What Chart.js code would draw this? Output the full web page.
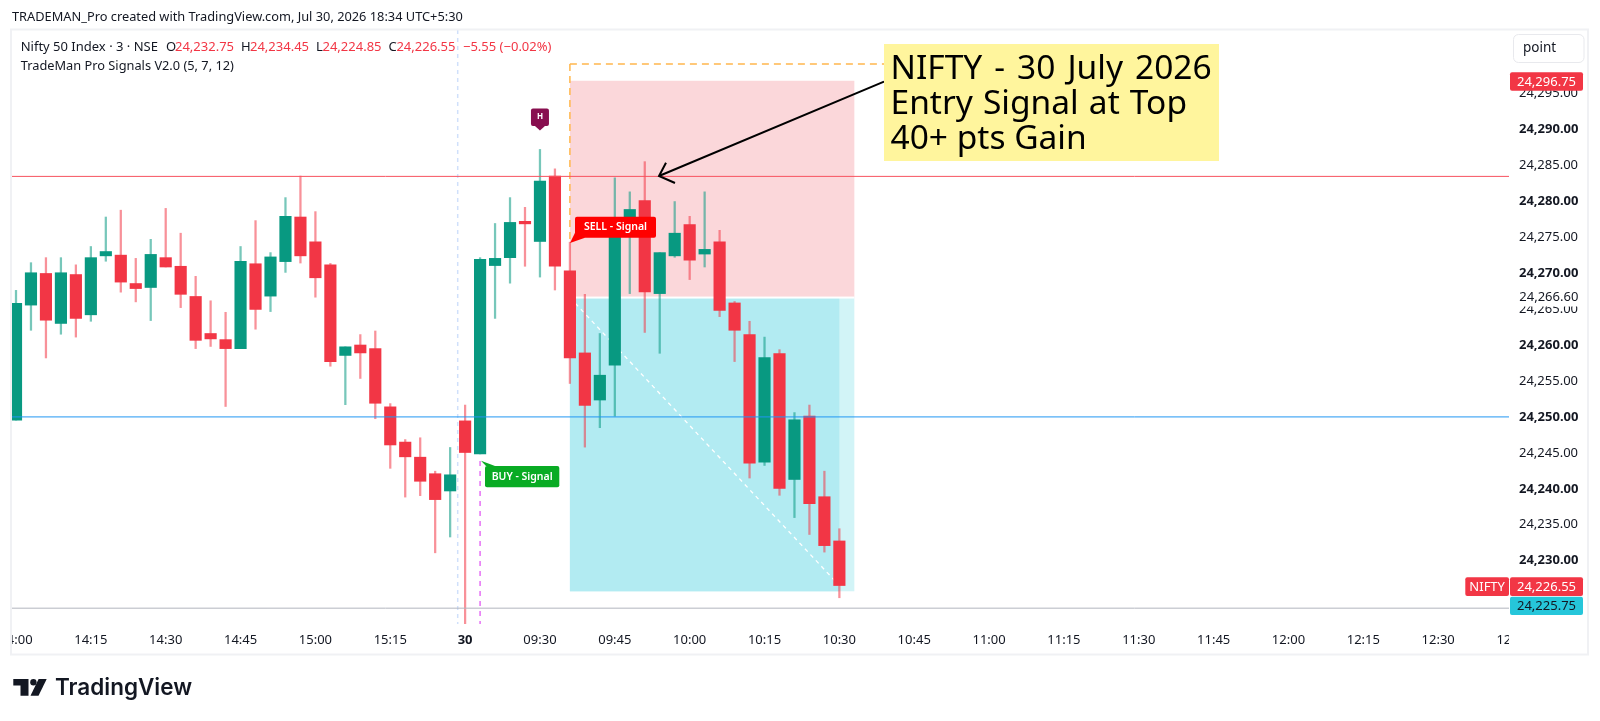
<!DOCTYPE html>
<html>
<head>
<meta charset="utf-8">
<title>NIFTY 30 July 2026</title>
<script src="https://cdn.jsdelivr.net/npm/chart.js@4/dist/chart.umd.min.js"></script>
<style>
  html, body { margin: 0; padding: 0; background: #fff; }
  canvas { display: block; }
</style>
</head>
<body>
<canvas id="chart" width="1600" height="721" style="width:1600px;height:721px"></canvas>
<script>
// candles
const opens = [24249.55,24265.55,24269.95,24263.00,24269.80,24264.20,24272.40,24272.50,24268.55,24268.00,
  24272.15,24270.95,24266.75,24261.60,24260.75,24259.50,24271.30,24266.80,24271.60,24277.80,
  24274.35,24271.15,24258.55,24260.00,24259.50,24251.40,24246.50,24244.40,24242.10,24239.70,
  24249.45,24244.85,24271.05,24272.15,24277.20,24274.40,24283.50,24270.30,24258.90,24252.35,
  24257.20,24277.70,24280.10,24267.15,24272.40,24276.75,24272.65,24274.35,24265.85,24261.45,
  24243.70,24258.80,24241.30,24250.10,24238.90,24232.75];
const highs = [24267.60,24271.45,24272.15,24272.15,24271.15,24273.70,24277.80,24278.75,24272.05,24274.70,
  24279.00,24275.55,24269.55,24266.15,24264.55,24273.70,24277.30,24272.85,24280.50,24283.50,
  24278.55,24271.35,24259.75,24261.45,24261.95,24251.85,24246.85,24247.10,24242.45,24245.75,
  24251.65,24272.15,24276.90,24280.50,24279.15,24287.20,24284.50,24274.30,24267.05,24261.60,
  24283.25,24281.30,24285.50,24272.85,24279.95,24277.90,24281.30,24275.95,24266.05,24263.30,
  24261.10,24259.35,24250.60,24251.65,24242.45,24234.45];
const lows = [24249.55,24262.05,24258.20,24261.50,24261.10,24263.30,24271.65,24267.35,24266.00,24263.40,
  24270.85,24265.20,24259.50,24259.80,24251.45,24259.50,24262.20,24264.65,24270.10,24271.40,
  24266.65,24257.05,24251.70,24255.35,24249.75,24242.85,24238.85,24239.05,24231.10,24233.30,
  24221.15,24244.85,24263.70,24268.60,24270.95,24269.45,24267.65,24254.65,24245.80,24248.50,
  24250.10,24267.15,24261.75,24258.85,24272.20,24269.10,24270.85,24263.95,24257.70,24241.50,
  24243.25,24239.10,24236.00,24233.65,24231.20,24224.85];
const closes = [24265.80,24270.05,24263.45,24270.05,24263.70,24272.15,24273.00,24268.75,24267.85,24272.60,
  24270.85,24267.05,24260.65,24260.85,24259.50,24271.65,24264.95,24272.25,24277.90,24272.40,
  24269.35,24257.70,24259.75,24258.90,24251.90,24246.10,24244.45,24241.05,24238.50,24241.95,
  24245.05,24271.90,24272.05,24277.05,24276.85,24282.80,24270.95,24258.20,24251.60,24255.80,
  24276.05,24278.85,24267.40,24272.85,24275.55,24271.80,24273.30,24264.80,24262.05,24243.55,
  24258.25,24240.05,24249.60,24237.95,24232.10,24226.55];

// axis labels
const timeLabels = ['14:00','14:15','14:30','14:45','15:00','15:15','30','09:30','09:45','10:00','10:15','10:30',
  '10:45','11:00','11:15','11:30','11:45','12:00','12:15','12:30','12:45'];
const priceTicks = [24230,24235,24240,24245,24250,24255,24260,24265,24270,24275,24280,24285,24290,24295];

// levels and drawing tools
const redLevel = 24283.45;
const blueLevel = 24250;
const greyLevel = 24223.4;
const stopPrice = 24296.75;
const entryPrice = 24266.6;
const targetPrice = 24225.75;
const lastPrice = 24226.55;
const noteLines = ['NIFTY - 30 July 2026', 'Entry Signal at Top', '40+ pts Gain'];

const UP = '#089981', DOWN = '#f23645', INK = '#131722';
const FONT = '"Noto Sans", sans-serif';
const fmt = v => v.toLocaleString('en-US', {minimumFractionDigits: 2, maximumFractionDigits: 2});

const indexes = opens.map((_, i) => i);

function text(ctx, str, x, y, font, color, align) {
  ctx.font = font;
  ctx.fillStyle = color;
  ctx.textAlign = align || 'left';
  ctx.textBaseline = 'middle';
  ctx.fillText(str, x, y);
}

function dashed(ctx, x1, y1, x2, y2, color, dash, width) {
  ctx.save();
  ctx.strokeStyle = color;
  ctx.lineWidth = width;
  ctx.setLineDash(dash);
  ctx.beginPath();
  ctx.moveTo(x1, y1);
  ctx.lineTo(x2, y2);
  ctx.stroke();
  ctx.restore();
}

function bubble(ctx, x, y, w, h, tipX, tipY, color, label) {
  ctx.fillStyle = color;
  ctx.beginPath();
  ctx.roundRect(x, y, w, h, 2);
  ctx.fill();
  ctx.beginPath();
  ctx.moveTo(tipX, tipY);
  ctx.lineTo(x + 1, y + (tipY < y ? 0 : h - 7));
  ctx.lineTo(x + 10, y + (tipY < y ? 0 : h));
  ctx.closePath();
  ctx.fill();
  text(ctx, label, x + w / 2, y + h / 2, '600 10.5px ' + FONT, '#fff', 'center');
}

function priceTag(ctx, x, y, w, h, color, label, textColor) {
  ctx.fillStyle = color;
  ctx.beginPath();
  ctx.roundRect(x, y, w, h, 2);
  ctx.fill();
  text(ctx, label, x + w / 2, y + h / 2 + 0.5, '13px ' + FONT, textColor, 'center');
}

const tradingViewPlugin = {
  id: 'tradingView',
  beforeDraw(chart) {
    const ctx = chart.ctx;
    ctx.save();
    ctx.fillStyle = '#fff';
    ctx.fillRect(0, 0, chart.width, chart.height);
    ctx.restore();
  },
  // position tool sits behind the candles
  beforeDatasetsDraw(chart) {
    const ctx = chart.ctx, x = chart.scales.x, y = chart.scales.y, area = chart.chartArea;
    const left = x.getPixelForValue(37), right = x.getPixelForValue(56), lastX = x.getPixelForValue(55);
    const entryY = y.getPixelForValue(entryPrice);
    ctx.save();
    ctx.beginPath();
    ctx.rect(area.left, area.top, area.width, area.height);
    ctx.clip();
    ctx.fillStyle = '#fbd7da';
    ctx.fillRect(left, y.getPixelForValue(stopPrice), right - left, entryY - y.getPixelForValue(stopPrice));
    ctx.fillStyle = '#d2f4f7';
    ctx.fillRect(left, entryY, right - left, y.getPixelForValue(targetPrice) - entryY);
    ctx.fillStyle = '#b2ebf2';
    ctx.fillRect(left, entryY, lastX - left, y.getPixelForValue(targetPrice) - entryY);
    ctx.fillStyle = '#fff';
    ctx.fillRect(left, entryY - 1, right - left, 2);
    dashed(ctx, left, entryY, lastX, y.getPixelForValue(lastPrice), '#fff', [4, 4], 1.3);
    dashed(ctx, 457.7, area.top, 457.7, area.bottom, '#d0e0fb', [4, 4], 1.5);
    dashed(ctx, x.getPixelForValue(31), 461, x.getPixelForValue(31), area.bottom, '#e56ff5', [5, 5], 1.5);
    dashed(ctx, left, 64, left, 241, '#ffb74d', [7, 5], 1.5);
    dashed(ctx, left, 64, 884, 64, '#ffb74d', [7, 5], 1.5);
    ctx.restore();
  },
  afterDatasetsDraw(chart) {
    const ctx = chart.ctx, x = chart.scales.x, y = chart.scales.y, area = chart.chartArea;
    ctx.save();
    ctx.beginPath();
    ctx.rect(area.left, area.top, area.width, area.height);
    ctx.clip();

    // horizontal levels
    [[redLevel, '#f7525f'], [blueLevel, '#2196f3'], [greyLevel, '#b2b5be']].forEach(l => {
      const py = y.getPixelForValue(l[0]);
      ctx.strokeStyle = l[1];
      ctx.lineWidth = 1;
      ctx.beginPath();
      ctx.moveTo(area.left, py);
      ctx.lineTo(area.right, py);
      ctx.stroke();
    });

    // signals
    bubble(ctx, 575, 216.7, 81, 21, 570, 243, '#ff0000', 'SELL - Signal');
    bubble(ctx, 485, 466, 74.3, 21.3, 481, 460.7, '#09ab24', 'BUY - Signal');

    // H marker above the high
    const mx = x.getPixelForValue(35);
    ctx.fillStyle = '#880e4f';
    ctx.beginPath();
    ctx.roundRect(mx - 9, 108.5, 18, 17.5, 2);
    ctx.fill();
    ctx.beginPath();
    ctx.moveTo(mx - 5, 126);
    ctx.lineTo(mx, 130.5);
    ctx.lineTo(mx + 5, 126);
    ctx.fill();
    text(ctx, 'H', mx, 117, 'bold 8px ' + FONT, '#fff', 'center');

    // arrow to the top candle
    ctx.strokeStyle = '#000';
    ctx.lineWidth = 2;
    ctx.beginPath();
    ctx.moveTo(884, 81.7);
    ctx.lineTo(659, 176);
    ctx.moveTo(666, 162.7);
    ctx.lineTo(659, 176);
    ctx.lineTo(675, 183);
    ctx.stroke();

    // note, word gaps are a bit wider in the original font
    const noteGaps = ['3.3px', '1.4px', '0px'];
    ctx.fillStyle = '#fff59d';
    ctx.fillRect(884, 44, 335, 117);
    noteLines.forEach((line, i) => {
      ctx.font = '33.5px ' + FONT;
      ctx.wordSpacing = noteGaps[i];
      ctx.fillStyle = '#000';
      ctx.textAlign = 'left';
      ctx.textBaseline = 'alphabetic';
      ctx.fillText(line, 890.5, 79 + i * 35.2);
    });
    ctx.wordSpacing = '0px';

    // legend
    const f = '13px ' + FONT;
    text(ctx, 'Nifty 50 Index · 3 · NSE', 20.7, 47.5, f, INK);
    text(ctx, 'O', 166, 47.5, f, INK);
    text(ctx, fmt(opens[55]), 175, 47.5, f, DOWN);
    text(ctx, 'H', 241, 47.5, f, INK);
    text(ctx, fmt(highs[55]), 250, 47.5, f, DOWN);
    text(ctx, 'L', 316, 47.5, f, INK);
    text(ctx, fmt(lows[55]), 322.5, 47.5, f, DOWN);
    text(ctx, 'C', 388.6, 47.5, f, INK);
    text(ctx, fmt(closes[55]), 396.4, 47.5, f, DOWN);
    text(ctx, '−5.55 (−0.02%)', 463, 47.5, f, DOWN);
    text(ctx, 'TradeMan Pro Signals V2.0 (5, 7, 12)', 20.7, 66.7, '12.8px ' + FONT, INK);
    ctx.restore();
  },
  afterDraw(chart) {
    const ctx = chart.ctx, y = chart.scales.y;
    ctx.save();

    // time labels stop at the pane edges
    ctx.fillStyle = '#fff';
    ctx.fillRect(0, 625, 11, 29);
    ctx.fillRect(1509, 625, 91, 29);

    // header
    text(ctx, 'TRADEMAN_Pro created with TradingView.com, Jul 30, 2026 18:34 UTC+5:30', 12, 17.3, '12.8px ' + FONT, INK);

    // frame
    ctx.strokeStyle = '#f0f1f4';
    ctx.lineWidth = 2;
    ctx.strokeRect(11, 29.5, 1577, 625);

    // scale box
    ctx.strokeStyle = '#e8e9ed';
    ctx.lineWidth = 1;
    ctx.beginPath();
    ctx.roundRect(1513.5, 34.5, 70.5, 28, 5);
    ctx.stroke();
    text(ctx, 'point', 1523, 48, '13.5px ' + FONT, INK);

    // price tags on the axis
    priceTag(ctx, 1510, 72.3, 73, 18.4, DOWN, fmt(stopPrice), '#fff');
    ctx.fillStyle = '#fff';
    ctx.fillRect(1510, 288.5, 73, 18);
    text(ctx, fmt(entryPrice), 1519.3, y.getPixelForValue(entryPrice), '13px ' + FONT, INK);
    priceTag(ctx, 1465.3, 577.3, 43.7, 18.7, DOWN, 'NIFTY', '#fff');
    priceTag(ctx, 1510, 577.3, 73, 18.7, DOWN, fmt(lastPrice), '#fff');
    priceTag(ctx, 1510, 596.7, 73, 18.3, '#26c6da', fmt(targetPrice), INK);

    // logo
    ctx.fillStyle = '#131722';
    ctx.beginPath();
    ctx.moveTo(13.3, 679);
    ctx.lineTo(28.5, 679);
    ctx.lineTo(28.5, 695.7);
    ctx.lineTo(20.5, 695.7);
    ctx.lineTo(20.5, 685.5);
    ctx.lineTo(13.3, 685.5);
    ctx.closePath();
    ctx.fill();
    ctx.beginPath();
    ctx.arc(33.4, 682.3, 3.2, 0, Math.PI * 2);
    ctx.fill();
    ctx.beginPath();
    ctx.moveTo(38.6, 679);
    ctx.lineTo(46.7, 679);
    ctx.lineTo(38.5, 695.7);
    ctx.lineTo(30.5, 695.7);
    ctx.closePath();
    ctx.fill();
    ctx.font = '600 22.5px Inter, ' + FONT;
    ctx.textAlign = 'left';
    ctx.textBaseline = 'alphabetic';
    ctx.fillText('TradingView', 55, 695);
    ctx.restore();
  }
};

new Chart(document.getElementById('chart').getContext('2d'), {
  type: 'bar',
  data: {
    datasets: [
      {
        label: 'wick',
        data: indexes.map(i => ({x: i, y: [lows[i], highs[i]]})),
        backgroundColor: indexes.map(i => closes[i] >= opens[i] ? 'rgba(8,153,129,0.55)' : 'rgba(242,54,69,0.55)'),
        barThickness: 1.6,
        grouped: false,
        order: 2
      },
      {
        label: 'body',
        data: indexes.map(i => ({x: i, y: [Math.min(opens[i], closes[i]), Math.max(opens[i], closes[i])]})),
        backgroundColor: indexes.map(i => closes[i] >= opens[i] ? UP : DOWN),
        barThickness: 11.5,
        grouped: false,
        order: 1
      }
    ]
  },
  options: {
    responsive: false,
    animation: false,
    devicePixelRatio: 1,
    layout: {padding: {left: 11, top: 30, right: 12, bottom: 66}},
    plugins: {legend: {display: false}, tooltip: {enabled: false}},
    scales: {
      x: {
        type: 'linear',
        offset: false,
        min: -0.334,
        max: 99.73,
        grid: {display: false, drawTicks: false},
        border: {display: false},
        afterBuildTicks(scale) {
          scale.ticks = timeLabels.map((_, i) => ({value: i * 5}));
        },
        afterFit(scale) {
          scale.height = 31;
          scale.paddingLeft = 0;
          scale.paddingRight = 0;
        },
        ticks: {
          autoSkip: false,
          maxRotation: 0,
          padding: 8,
          color: INK,
          font: ctx => ({family: FONT, size: 13, weight: ctx.tick && ctx.tick.value === 30 ? 'bold' : 'normal'}),
          callback: (v) => timeLabels[v / 5]
        }
      },
      y: {
        position: 'right',
        min: 24221.2,
        max: 24303.81,
        grid: {display: false, drawTicks: false},
        border: {display: false},
        afterBuildTicks(scale) {
          scale.ticks = priceTicks.map(v => ({value: v}));
        },
        afterFit(scale) {
          scale.width = 79;
          scale.paddingTop = 0;
          scale.paddingBottom = 0;
        },
        ticks: {
          autoSkip: false,
          padding: 10,
          color: INK,
          font: ctx => ({family: FONT, size: 13, weight: ctx.tick && ctx.tick.value % 10 === 0 ? 'bold' : 'normal'}),
          callback: v => fmt(v)
        }
      }
    }
  },
  plugins: [tradingViewPlugin]
});
</script>
</body>
</html>
